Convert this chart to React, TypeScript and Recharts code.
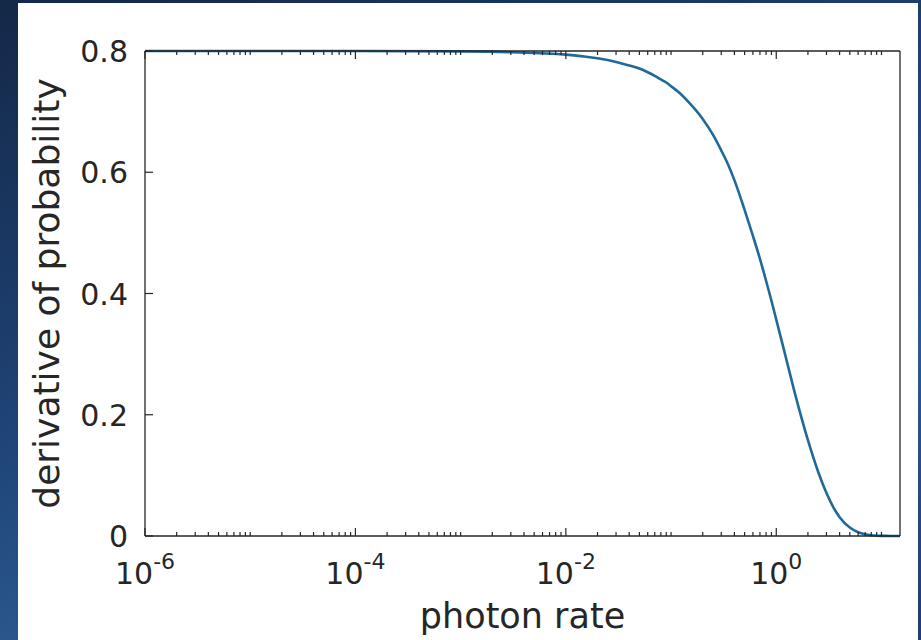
import React from "react";
import { LineChart, Line, XAxis, YAxis } from "recharts";

// photon rate (x, log scale) and derivative of probability (y)
const photonRate = [1e-6, 1e-5, 1e-4, 1e-3, 3e-3, 0.01, 0.015, 0.02, 0.03, 0.04, 0.05, 0.06, 0.07, 0.08, 0.09, 0.1, 0.12, 0.15, 0.2, 0.25, 0.3, 0.35, 0.4, 0.5, 0.6, 0.7, 0.8, 0.9, 1.0, 1.2, 1.5, 2, 2.5, 3, 3.5, 4, 5, 6, 7, 8, 10, 12, 15];
const derivative = [0.8, 0.8, 0.8, 0.7994, 0.798, 0.794, 0.791, 0.788, 0.782, 0.776, 0.771, 0.765, 0.759, 0.753, 0.748, 0.742, 0.731, 0.714, 0.688, 0.662, 0.636, 0.612, 0.587, 0.538, 0.495, 0.457, 0.421, 0.388, 0.357, 0.303, 0.236, 0.158, 0.106, 0.071, 0.047, 0.031, 0.014, 0.0062, 0.0028, 0.0012, 0.0002, 0.0001, 0];

const xMajorTicks = [1e-6, 1e-4, 1e-2, 1];
const xMajorExponents = ["-6", "-4", "-2", "0"];
const xDecades = [-6, -5, -4, -3, -2, -1, 0, 1];
const yTicks = [0, 0.2, 0.4, 0.6, 0.8];
const yTickLabels = ["0", "0.2", "0.4", "0.6", "0.8"];

const xTickValues: number[] = [];
xDecades.forEach((e) => {
  for (let m = 1; m <= 9; m++) {
    const v = m * Math.pow(10, e);
    if (v <= 15) xTickValues.push(v);
  }
});

const data = photonRate.map((x, i) => ({ x, y: derivative[i] }));

const AXIS = "#262626";
const FONT = "'DejaVu Sans', sans-serif";
const TICK_FS = 30;
const LABEL_FS = 36;
const MAJOR = 8;
const MINOR = 4;

const majorIndex = (v: number) =>
  xMajorTicks.findIndex((t) => Math.abs(Math.log10(t) - Math.log10(v)) < 1e-6);

const BottomTick = (props: any) => {
  const { x, y, payload } = props;
  const idx = majorIndex(payload.value);
  const len = idx >= 0 ? MAJOR : MINOR;
  return (
    <g>
      <line x1={x} x2={x} y1={y} y2={y - len} stroke={AXIS} strokeWidth={1.2} />
      {idx >= 0 && (
        <text x={x} y={y + 48} textAnchor="middle" fontFamily={FONT} fontSize={TICK_FS} fill="#262626">
          <tspan>10</tspan>
          <tspan dy={-15} fontSize={22}>{xMajorExponents[idx]}</tspan>
        </text>
      )}
    </g>
  );
};

const TopTick = (props: any) => {
  const { x, y, payload } = props;
  const idx = majorIndex(payload.value);
  const len = idx >= 0 ? MAJOR : MINOR;
  return <line x1={x} x2={x} y1={y} y2={y + len} stroke={AXIS} strokeWidth={1.2} />;
};

const LeftTick = (props: any) => {
  const { x, y, payload } = props;
  const i = yTicks.indexOf(payload.value);
  return (
    <g>
      <line x1={x} x2={x + MAJOR} y1={y} y2={y} stroke={AXIS} strokeWidth={1.2} />
      <text x={x - 17} y={y} dy={11} textAnchor="end" fontFamily={FONT} fontSize={TICK_FS} fill="#262626">
        {i >= 0 ? yTickLabels[i] : ""}
      </text>
    </g>
  );
};

const RightTick = (props: any) => {
  const { x, y } = props;
  return <line x1={x} x2={x - MAJOR} y1={y} y2={y} stroke={AXIS} strokeWidth={1.2} />;
};

const YLabel = (props: any) => {
  const vb = props.viewBox || { x: 0, y: 0, width: 127, height: 485 };
  const cx = vb.x + 28;
  const cy = vb.y + vb.height / 2;
  return (
    <text
      x={cx}
      y={cy}
      transform={`rotate(-90, ${cx}, ${cy})`}
      textAnchor="middle"
      dominantBaseline="central"
      fontFamily={FONT}
      fontSize={LABEL_FS}
      fill="#262626"
    >
      derivative of probability
    </text>
  );
};

export default function App() {
  return (
    <div
      style={{
        position: "absolute",
        left: 0,
        top: 0,
        width: 921,
        height: 640,
        background: "linear-gradient(160deg, #142848 0%, #1f4477 45%, #2c5a90 70%, #1d3d6b 100%)",
        overflow: "hidden",
      }}
    >
      <div style={{ position: "absolute", left: 18, top: 3, width: 900, height: 637, background: "#ffffff" }}>
        <LineChart width={900} height={637} data={data} margin={{ top: 0, right: 0, bottom: 0, left: 0 }}>
          <XAxis
            xAxisId="b"
            dataKey="x"
            type="number"
            scale="log"
            domain={[1e-6, 15]}
            allowDataOverflow
            ticks={xTickValues}
            interval={0}
            tick={<BottomTick />}
            tickLine={false}
            tickSize={0}
            tickMargin={0}
            height={104}
            axisLine={{ stroke: AXIS, strokeWidth: 1.3 }}
            label={{
              value: "photon rate",
              position: "insideBottom",
              offset: 12,
              style: { fontFamily: FONT, fontSize: 35, fill: "#262626" },
            }}
          />
          <XAxis
            xAxisId="t"
            orientation="top"
            dataKey="x"
            type="number"
            scale="log"
            domain={[1e-6, 15]}
            allowDataOverflow
            ticks={xTickValues}
            interval={0}
            tick={<TopTick />}
            tickLine={false}
            tickSize={0}
            tickMargin={0}
            height={48}
            axisLine={{ stroke: AXIS, strokeWidth: 1.3 }}
          />
          <YAxis
            yAxisId="l"
            type="number"
            domain={[0, 0.8]}
            ticks={yTicks}
            interval={0}
            tick={<LeftTick />}
            tickLine={false}
            tickSize={0}
            tickMargin={0}
            width={127}
            axisLine={{ stroke: AXIS, strokeWidth: 1.3 }}
            label={<YLabel />}
          />
          <YAxis
            yAxisId="r"
            orientation="right"
            type="number"
            domain={[0, 0.8]}
            ticks={yTicks}
            interval={0}
            tick={<RightTick />}
            tickLine={false}
            tickSize={0}
            tickMargin={0}
            width={18}
            axisLine={{ stroke: AXIS, strokeWidth: 1.3 }}
          />
          <Line
            xAxisId="b"
            yAxisId="l"
            dataKey="y"
            type="monotone"
            stroke="#1f6a9a"
            strokeWidth={2.6}
            dot={false}
            isAnimationActive={false}
          />
        </LineChart>
      </div>
    </div>
  );
}
